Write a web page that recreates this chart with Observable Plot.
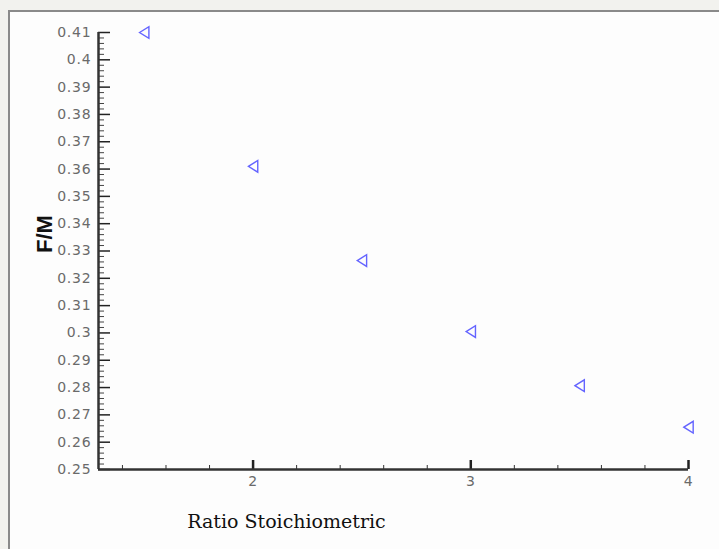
<!DOCTYPE html>
<html>
<head>
<meta charset="utf-8">
<script src="https://cdn.jsdelivr.net/npm/d3@7"></script>
<script src="https://cdn.jsdelivr.net/npm/@observablehq/plot@0.6"></script>
<style>
  html, body { margin: 0; padding: 0; }
  #wrap { position: relative; width: 719px; height: 549px; background: #f2f2ee; overflow: hidden; }
  #panel { position: absolute; left: 8px; top: 10px; right: 0; bottom: 0; background: #fdfdfd;
           border-left: 2px solid #8a8a8a; border-top: 2px solid #8a8a8a; }
  #chart { position: absolute; left: 0; top: 0; }
  #chart g[aria-label="y-axis tick label"] text, #chart g[aria-label="x-axis tick label"] text { letter-spacing: 0.8px; }
</style>
</head>
<body>
<div id="wrap"><div id="panel"></div><div id="chart"></div></div>
<script>
// Data
const ratio = [1.5, 2, 2.5, 3, 3.5, 4];
const fm = [0.41, 0.361, 0.3265, 0.3005, 0.2807, 0.2655];
const xTicks = [2, 3, 4];
const xTickLabels = ["2", "3", "4"];
const yTicks = [0.25, 0.26, 0.27, 0.28, 0.29, 0.3, 0.31, 0.32, 0.33, 0.34, 0.35, 0.36, 0.37, 0.38, 0.39, 0.4, 0.41];
const yTickLabels = ["0.25","0.26","0.27","0.28","0.29","0.3","0.31","0.32","0.33","0.34","0.35","0.36","0.37","0.38","0.39","0.4","0.41"];
const xLabel = "Ratio Stoichiometric";
const yLabel = "F/M";

const data = ratio.map((r, i) => ({ratio: r, fm: fm[i]}));
const xMinor = d3.range(14, 40, 2).map(v => v / 10).filter(v => !xTicks.includes(v));
const yMinor = d3.range(1250, 2051, 10).map(v => v / 5000).filter(v => Math.abs(Math.round(v * 100) - v * 100) > 1e-6);

// left-pointing triangle symbol
const triLeft = {
  draw(context, size) {
    const h = Math.sqrt(size) * 1.2;
    const w = h * 0.8;
    context.moveTo(-w / 2, 0);
    context.lineTo(w / 2, -h / 2);
    context.lineTo(w / 2, h / 2);
    context.closePath();
  }
};

const tickFont = "DejaVu Sans, Verdana, sans-serif";

const chart = Plot.plot({
  width: 719,
  height: 549,
  marginLeft: 98,
  marginRight: 31,
  marginTop: 32,
  marginBottom: 80,
  style: { background: "transparent", fontFamily: tickFont, overflow: "visible" },
  x: { domain: [1.29, 4] },
  y: { domain: [0.25, 0.41] },
  marks: [
    Plot.axisY({ ticks: yMinor, tickSize: -6, text: null, label: null, stroke: "#444", strokeWidth: 1 }),
    Plot.axisY({ ticks: yTicks, tickSize: -12, text: null, label: null, stroke: "#222", strokeWidth: 1.5 }),
    Plot.axisY({ ticks: yTicks, tickSize: 0, tickPadding: 7, tickFormat: d => yTickLabels[yTicks.indexOf(d)], label: null, fontSize: 14, fill: "#6a6a6a" }),
    Plot.axisX({ ticks: xMinor, tickSize: -4, text: null, label: null, stroke: "#333", strokeWidth: 1 }),
    Plot.axisX({ ticks: xTicks, tickSize: -9, text: null, label: null, stroke: "#222", strokeWidth: 2.5 }),
    Plot.axisX({ ticks: xTicks, tickSize: 0, tickPadding: 7, tickFormat: d => xTickLabels[xTicks.indexOf(d)], label: null, fontSize: 14, fill: "#6a6a6a" }),
    Plot.ruleX([1.29], { stroke: "#333", strokeWidth: 2.5 }),
    Plot.ruleY([0.25], { stroke: "#333", strokeWidth: 2.5 }),
    Plot.dot(data, { x: "ratio", y: "fm", symbol: triLeft, r: 5.5, stroke: "#6464ff", strokeWidth: 1.4, fill: "none" }),
    Plot.text([xLabel], { frameAnchor: "bottom-left", text: d => d, dx: 188, dy: 58, fontFamily: "DejaVu Serif, serif", fontSize: 19, fill: "#111", textAnchor: "middle" }),
    Plot.text([yLabel], { frameAnchor: "left", text: d => d, dx: -54, dy: 2, rotate: -90, fontFamily: "Liberation Sans, Arial, sans-serif", fontWeight: "bold", fontSize: 22, fill: "#111" })
  ]
});
document.getElementById("chart").appendChild(chart);
</script>
</body>
</html>
